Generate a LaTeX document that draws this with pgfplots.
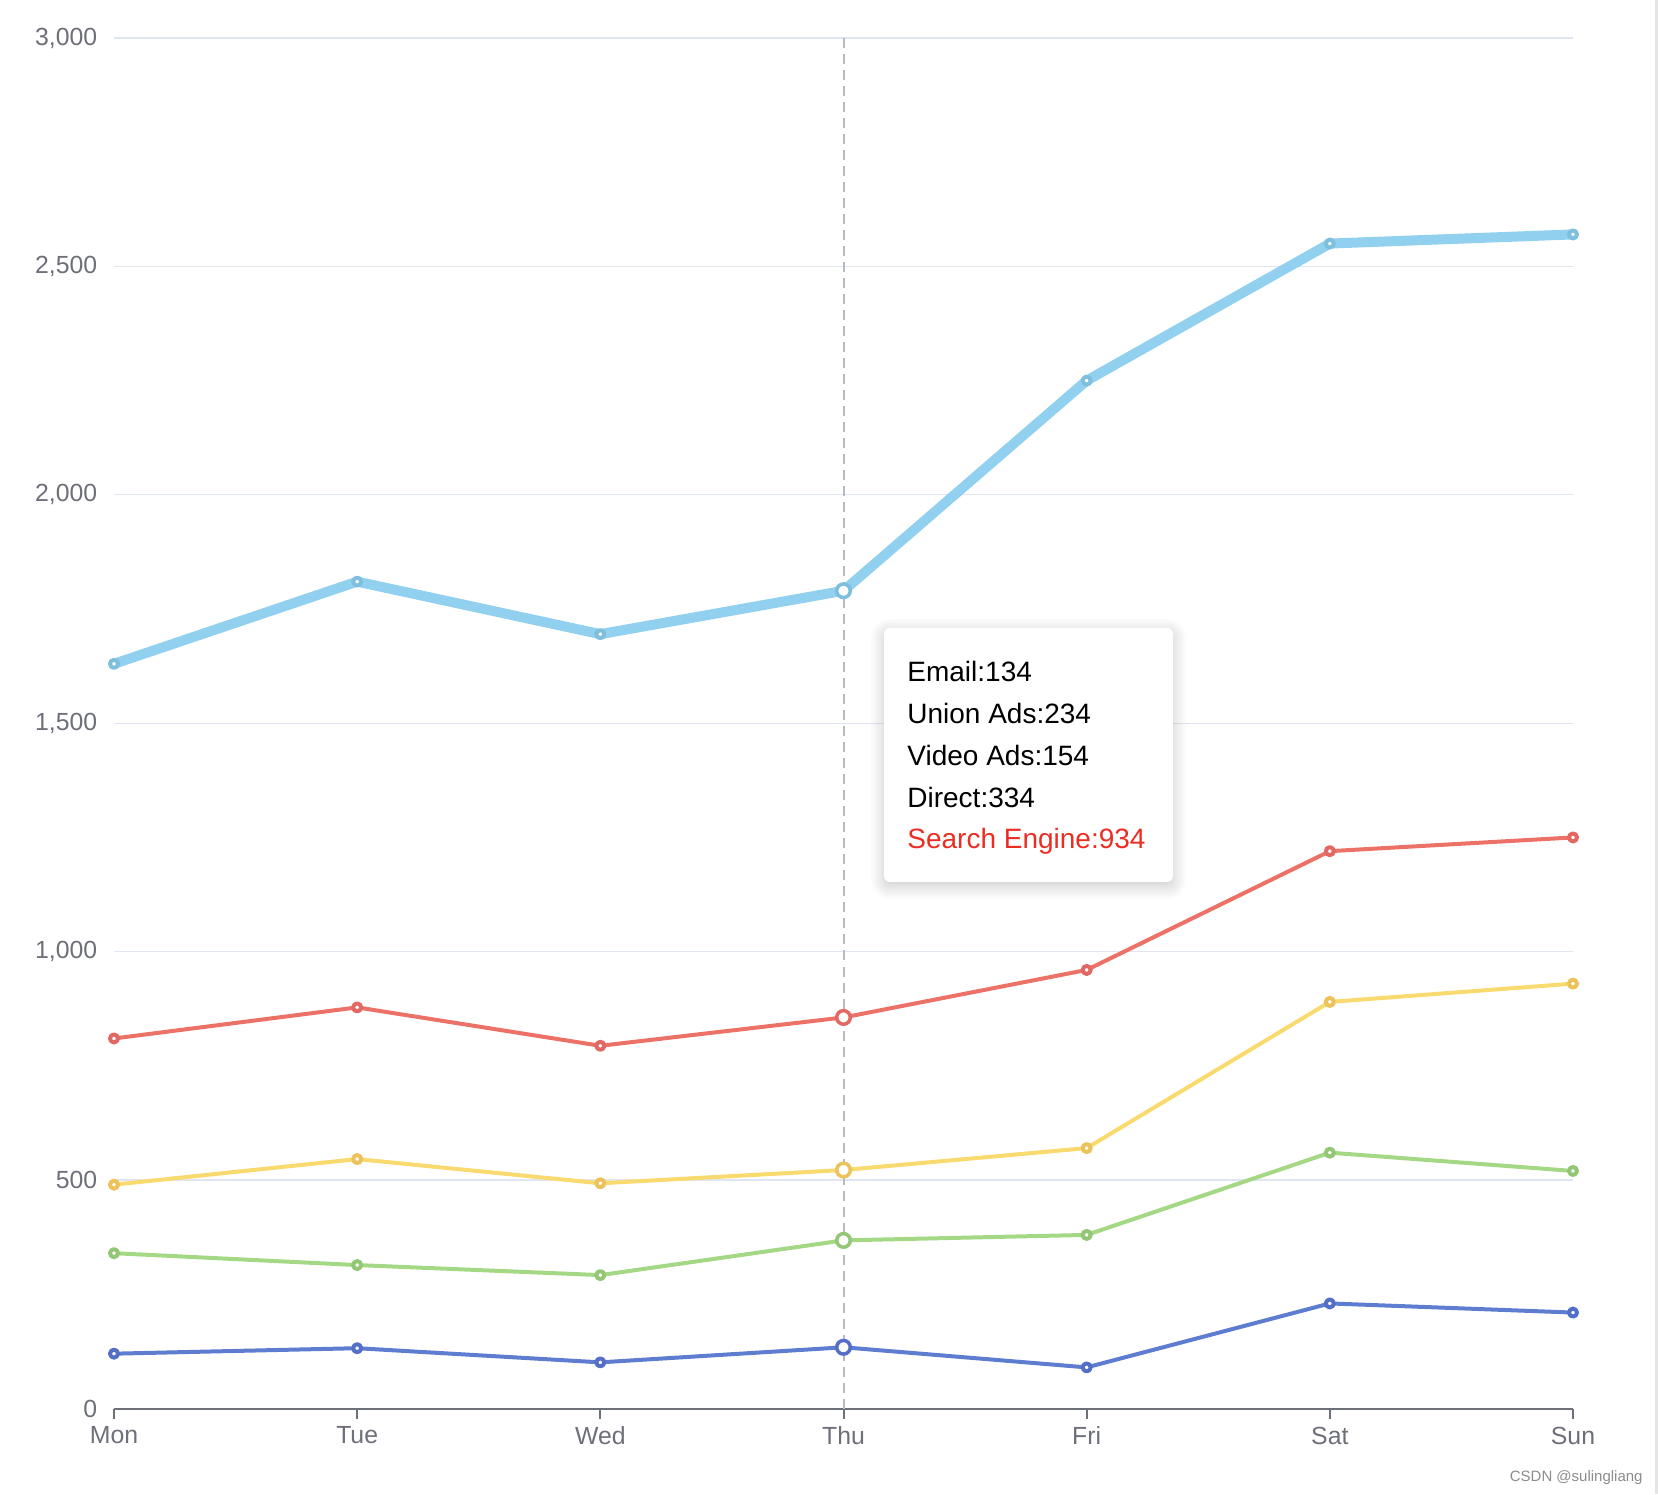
\documentclass[border=0pt]{standalone}
\usepackage{fontspec}
\setmainfont{Liberation Sans}
\usepackage{pgfplots}
\pgfplotsset{compat=1.18}
\usetikzlibrary{shadows.blur}
\definecolor{cEmail}{RGB}{95,125,208}
\definecolor{cEmailMk}{HTML}{5470C6}
\definecolor{cUnion}{RGB}{165,216,132}
\definecolor{cUnionMk}{RGB}{147,199,117}
\definecolor{cVideo}{RGB}{249,218,110}
\definecolor{cVideoMk}{RGB}{237,194,90}
\definecolor{cDirect}{RGB}{236,114,104}
\definecolor{cDirectMk}{RGB}{226,104,100}
\definecolor{cSearch}{RGB}{145,208,239}
\definecolor{cSearchMk}{RGB}{125,191,221}
\definecolor{axisgray}{HTML}{6E7079}
\definecolor{gridc}{HTML}{E0E6F1}
\definecolor{pointer}{HTML}{B6BAC4}
\definecolor{tipred}{RGB}{235,45,35}
\begin{document}
\begin{tikzpicture}
\path[use as bounding box] (-57pt,-42.75pt) rectangle (772pt,704.25pt);
\fill[black!10] (770.5pt,-42.75pt) rectangle (772pt,704.25pt);
\begin{axis}[
  at={(0pt,0pt)}, anchor=south west,
  scale only axis, width=729.5pt, height=685.25pt,
  xmin=0, xmax=6, ymin=0, ymax=3000,
  enlargelimits=false, clip=false,
  axis x line*=bottom, axis y line*=left,
  x axis line style={-, draw=axisgray, line width=1pt},
  y axis line style={draw=none},
  xtick={0,...,6},
  xticklabels={Mon,Tue,Wed,Thu,Fri,Sat,Sun},
  ytick={0,500,...,3000},
  ymajorgrids, grid style={gridc, line width=0.6pt},
  tick align=outside, major tick length=5pt,
  xtick style={draw=axisgray, line width=1pt},
  ytick style={draw=none},
  ticklabel style={font=\fontsize{12.4}{14}\selectfont, text=axisgray},
  xticklabel style={anchor=north, inner sep=0pt, yshift=-4pt},
  yticklabel style={anchor=east, inner sep=0pt, xshift=-3.2pt},
  /pgf/number format/.cd, 1000 sep={,}, assume math mode=true,
]
\addplot[pointer, line width=1pt, dash pattern=on 5pt off 3pt, forget plot] coordinates {(3,0) (3,3000)};
% Email
\addplot[cEmail, line width=2pt, line join=round, mark=*, mark size=2pt, mark options={fill=white, draw=cEmailMk, line width=2pt, solid}]
  coordinates {(0,120) (1,132) (2,101) (3,134) (4,90) (5,230) (6,210)};
% Union Ads (stacked)
\addplot[cUnion, line width=2pt, line join=round, mark=*, mark size=2pt, mark options={fill=white, draw=cUnionMk, line width=2pt, solid}]
  coordinates {(0,340) (1,314) (2,292) (3,368) (4,380) (5,560) (6,520)};
% Video Ads (stacked)
\addplot[cVideo, line width=2pt, line join=round, mark=*, mark size=2pt, mark options={fill=white, draw=cVideoMk, line width=2pt, solid}]
  coordinates {(0,490) (1,546) (2,493) (3,522) (4,570) (5,890) (6,930)};
% Direct (stacked)
\addplot[cDirect, line width=2pt, line join=round, mark=*, mark size=2pt, mark options={fill=white, draw=cDirectMk, line width=2pt, solid}]
  coordinates {(0,810) (1,878) (2,794) (3,856) (4,960) (5,1220) (6,1250)};
% Search Engine (stacked)
\addplot[cSearch, line width=5pt, line join=round, mark=*, mark size=2pt, mark options={fill=white, draw=cSearchMk, line width=2pt, solid}]
  coordinates {(0,1630) (1,1810) (2,1695) (3,1790) (4,2250) (5,2550) (6,2570)};
% emphasized points at Thu
\addplot[only marks, mark=*, mark size=3.4pt, mark options={fill=white, draw=cEmailMk, line width=1.75pt}] coordinates {(3,134)};
\addplot[only marks, mark=*, mark size=3.4pt, mark options={fill=white, draw=cUnionMk, line width=1.75pt}] coordinates {(3,368)};
\addplot[only marks, mark=*, mark size=3.4pt, mark options={fill=white, draw=cVideoMk, line width=1.75pt}] coordinates {(3,522)};
\addplot[only marks, mark=*, mark size=3.4pt, mark options={fill=white, draw=cDirectMk, line width=1.75pt}] coordinates {(3,856)};
\addplot[only marks, mark=*, mark size=3.4pt, mark options={fill=white, draw=cSearchMk, line width=1.75pt}] coordinates {(3,1790)};
\end{axis}
% tooltip
\path[fill=white, rounded corners=3pt, blur shadow={shadow blur steps=12, shadow xshift=0pt, shadow yshift=-2pt, shadow blur radius=7pt, shadow opacity=22}]
  (385pt,263.25pt) rectangle (529.5pt,390.25pt);
\begin{scope}[every node/.style={anchor=base west, inner sep=0pt, font=\fontsize{14}{16}\selectfont}]
\node at (396.5pt,363.25pt) {Email:134};
\node at (396.5pt,342.4pt) {Union Ads:234};
\node at (396.5pt,321.5pt) {Video Ads:154};
\node at (396.5pt,300.6pt) {Direct:334};
\node[text=tipred] at (396.5pt,279.75pt) {Search Engine:934};
\end{scope}
\node[anchor=base east, inner sep=0pt, text=black!45, font=\fontsize{7.5}{8}\selectfont] at (764.5pt,-36.25pt) {CSDN @sulingliang};
\end{tikzpicture}
\end{document}
